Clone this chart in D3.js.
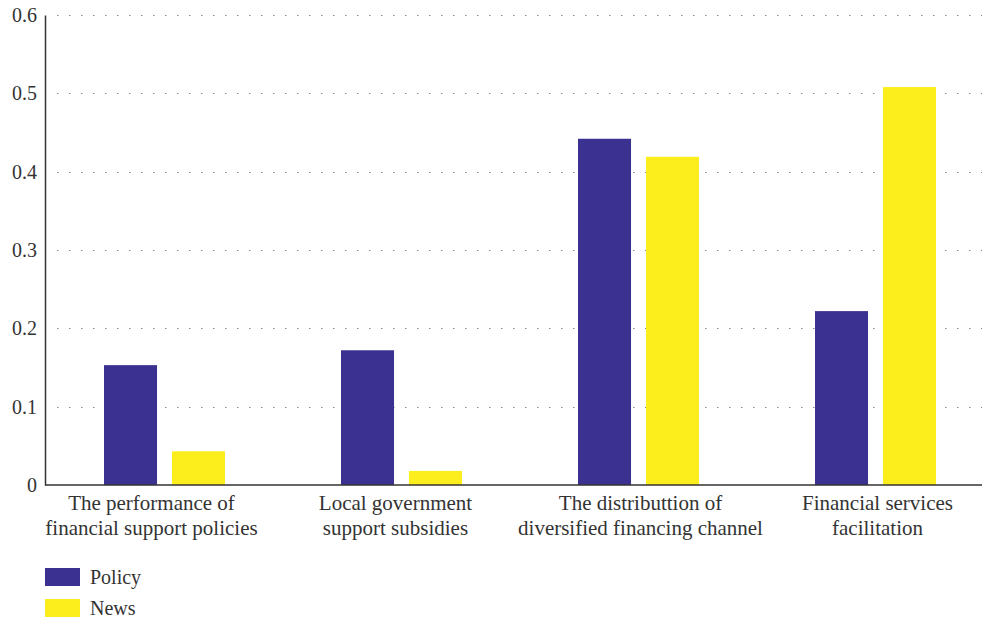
<!DOCTYPE html>
<html>
<head>
<meta charset="utf-8">
<script src="https://cdn.jsdelivr.net/npm/d3@7"></script>
<style>
  body { margin: 0; background: #fff; }
  svg text { font-family: "Liberation Serif", "DejaVu Serif", serif; fill: #333; }
</style>
</head>
<body>
<div id="chart"></div>
<script>
var categories = [
  ['The performance of', 'financial support policies'],
  ['Local government', 'support subsidies'],
  ['The distributtion of', 'diversified financing channel'],
  ['Financial services', 'facilitation']
]
var seriesNames = ['Policy', 'News']
var policyValues = [0.153, 0.172, 0.442, 0.222]
var newsValues = [0.043, 0.018, 0.419, 0.508]
var yTicks = [0, 0.1, 0.2, 0.3, 0.4, 0.5, 0.6]
var colors = ['#3a3190', '#fcee1c']

var width = 982, height = 620
var margin = { left: 45, top: 15, bottom: 135 }
var plotBottom = height - margin.bottom

var svg = d3.select('#chart').append('svg')
  .attr('width', width)
  .attr('height', height)

var yScale = d3.scaleLinear()
  .domain([0, 0.6])
  .range([plotBottom, margin.top])

var xScale = d3.scaleBand()
  .domain(d3.range(categories.length))
  .range([margin.left, margin.left + 237 * 4])

var subScale = d3.scaleBand()
  .domain(seriesNames)
  .range([59, 180])
  .paddingInner(0.22)

// dotted grid
svg.append('g')
  .selectAll('line')
  .data(yTicks.filter(function(d) { return d > 0 }))
  .enter().append('line')
    .attr('x1', margin.left + 12)
    .attr('x2', width)
    .attr('y1', function(d) { return Math.round(yScale(d)) + 0.5 })
    .attr('y2', function(d) { return Math.round(yScale(d)) + 0.5 })
    .attr('stroke', '#888')
    .attr('stroke-width', 1.2)
    .attr('stroke-dasharray', '1.5,10.5')

var data = []
categories.forEach(function(c, i) {
  data.push({ cat: i, series: 'Policy', value: policyValues[i] })
  data.push({ cat: i, series: 'News', value: newsValues[i] })
})

svg.append('g')
  .selectAll('rect')
  .data(data)
  .enter().append('rect')
    .attr('x', function(d) { return xScale(d.cat) + subScale(d.series) })
    .attr('width', subScale.bandwidth())
    .attr('y', function(d) { return yScale(d.value) })
    .attr('height', function(d) { return plotBottom - yScale(d.value) })
    .attr('fill', function(d) { return colors[seriesNames.indexOf(d.series)] })

// y axis
var yAxis = d3.axisLeft(yScale)
  .tickValues(yTicks)
  .tickSize(0)
  .tickPadding(8)
  .tickFormat(function(d) { return d === 0 ? '0' : d3.format('.1f')(d) })

var yg = svg.append('g')
  .attr('transform', 'translate(' + margin.left + ',0)')
  .call(yAxis)
yg.select('.domain').attr('stroke', '#333').attr('stroke-width', 1.5)
yg.selectAll('text')
  .style('font-size', '20px')
  .attr('fill', '#333')

// x axis line
svg.append('line')
  .attr('x1', margin.left)
  .attr('x2', width)
  .attr('y1', plotBottom)
  .attr('y2', plotBottom)
  .attr('stroke', '#333')
  .attr('stroke-width', 1.5)

var labelShift = [-12, -5, 3, 3]
var labels = svg.append('g')
  .selectAll('text')
  .data(categories)
  .enter().append('text')
    .attr('text-anchor', 'middle')
    .attr('x', function(d, i) { return xScale(i) + xScale.bandwidth() / 2 + labelShift[i] })
    .attr('y', plotBottom + 25)
    .style('font-size', '21px')
labels.selectAll('tspan')
  .data(function(d) { return d })
  .enter().append('tspan')
    .attr('x', function() { return d3.select(this.parentNode).attr('x') })
    .attr('dy', function(d, i) { return i === 0 ? 0 : 25 })
    .text(function(d) { return d })

// legend
var legend = svg.append('g')
  .selectAll('g')
  .data(seriesNames)
  .enter().append('g')
    .attr('transform', function(d, i) { return 'translate(45,' + (568 + i * 31) + ')' })
legend.append('rect')
  .attr('width', 35)
  .attr('height', 18)
  .attr('fill', function(d, i) { return colors[i] })
legend.append('text')
  .attr('x', 45)
  .attr('y', 16)
  .style('font-size', '20px')
  .text(function(d) { return d })
</script>
</body>
</html>
